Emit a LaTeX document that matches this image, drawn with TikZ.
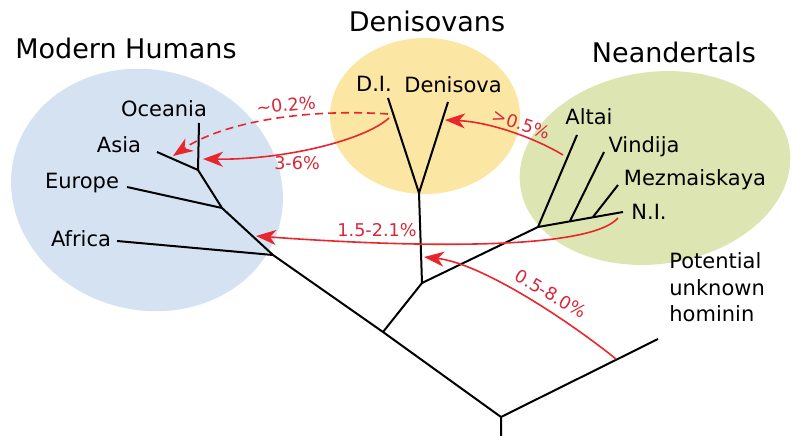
\documentclass[tikz,border=0pt]{standalone}
\usepackage{fontspec}
\setmainfont{DejaVu Sans}
\usetikzlibrary{arrows.meta}
\definecolor{hblue}{RGB}{213,226,242}
\definecolor{dyellow}{RGB}{252,230,164}
\definecolor{ngreen}{RGB}{221,230,178}
\definecolor{arrred}{RGB}{232,38,44}
\definecolor{txtred}{RGB}{214,40,58}
\tikzset{
  title/.style={inner sep=0pt, anchor=base, font=\fontsize{13.5}{16}\selectfont},
  leaf/.style={inner sep=0pt, anchor=base, font=\fontsize{10.5}{13.3}\selectfont},
  pct/.style={inner sep=0pt, text=txtred, font=\fontsize{8.8}{10}\selectfont},
  branch/.style={draw=black, line width=1pt, line join=round},
  flow/.style={draw=arrred, line width=0.8pt, -{Stealth[length=10pt,width=7.5pt,inset=3pt]}},
}
\begin{document}
\begin{tikzpicture}[x=0.5pt,y=-0.5pt]
\useasboundingbox (0,0) rectangle (800,444);
% group ellipses
\fill[hblue, rotate around={-15:(147,190)}] (147,190) ellipse [x radius=137, y radius=120];
\fill[dyellow] (425,116) ellipse [x radius=95, y radius=78];
\fill[ngreen, rotate around={8:(655,168)}] (655,168) ellipse [x radius=136, y radius=96];

% titles
\node[title] (tmh) at (126,59) {Modern Humans};
\node[title] (tden) at (427,32) {Denisovans};
\node[title] (tnea) at (674,63) {Neandertals};

% tree coordinates
\coordinate (rootb) at (501,436);
\coordinate (root) at (501,417);
\coordinate (jdn) at (383,332);
\coordinate (jaf) at (273,255);
\coordinate (jeu) at (222,208);
\coordinate (jas) at (198,170);
\coordinate (eoc) at (199,123);
\coordinate (eas) at (157,152);
\coordinate (eeu) at (127,187);
\coordinate (eaf) at (117,241);
\coordinate (jd) at (422,283);
\coordinate (jden) at (419,193);
\coordinate (edi) at (388,98);
\coordinate (edv) at (448,102);
\coordinate (jne) at (538,227);
\coordinate (jvi) at (570,221);
\coordinate (jme) at (593,217);
\coordinate (eal) at (577,135);
\coordinate (evi) at (604,152);
\coordinate (eme) at (618,185);
\coordinate (eni) at (623,212);
\coordinate (eun) at (658,339);

% tree
\draw[branch] (rootb) -- (root) -- (jdn) -- (jaf) -- (jeu) -- (jas) -- (eoc);
\draw[branch] (jas) -- (eas);
\draw[branch] (jeu) -- (eeu);
\draw[branch] (jaf) -- (eaf);
\draw[branch] (jdn) -- (jd) -- (jden) -- (edi);
\draw[branch] (jden) -- (edv);
\draw[branch] (jd) -- (jne) -- (eal);
\draw[branch] (jne) -- (eni);
\draw[branch] (jvi) -- (evi);
\draw[branch] (jme) -- (eme);
\draw[branch] (root) -- (eun);

% leaf labels
\node[leaf] (loc) at (164,117) {Oceania};
\node[leaf] (las) at (119,153) {Asia};
\node[leaf] (leu) at (82,189) {Europe};
\node[leaf] (laf) at (81,247) {Africa};
\node[leaf] (ldi) at (374,92) {D.I.};
\node[leaf] (ldv) at (453,93) {Denisova};
\node[leaf] (lal) at (589,125) {Altai};
\node[leaf] (lvi) at (644,153) {Vindija};
\node[leaf] (lme) at (695,186) {Mezmaiskaya};
\node[leaf] (lni) at (649,220) {N.I.};
\node[leaf, anchor=base west, align=left] (lun) at (669,322) {Potential\\unknown\\hominin};

% gene-flow arrows
\coordinate (sdi1) at (388,114);
\coordinate (tdi1) at (173,156);
\coordinate (sdi2) at (389,118);
\coordinate (tdi2) at (203,159);
\coordinate (sal) at (563,155);
\coordinate (tal) at (445,120);
\coordinate (sni) at (618,218);
\coordinate (tni) at (256,236);
\coordinate (sun) at (616,359);
\coordinate (tun) at (424,257);

\draw[flow, dash pattern=on 4pt off 2.5pt] (sdi1) .. controls (300,108) and (220,124) .. (tdi1);
\draw[flow] (sdi2) .. controls (365,140) and (285,160) .. (tdi2);
\draw[flow] (sal) .. controls (535,138) and (490,122) .. (tal);
\draw[flow] (sni) .. controls (590,250) and (420,248) .. (tni);
\draw[flow] (sun) .. controls (565,318) and (480,263) .. (tun);

% percentages
\node[pct, rotate=6] (p1) at (286,105) {\textasciitilde 0.2\%};
\node[pct] (p2) at (297,163) {3-6\%};
\node[pct, rotate=-18] (p3) at (521,124) {>0.5\%};
\node[pct] (p4) at (377,230) {1.5-2.1\%};
\node[pct, rotate=-30] (p5) at (551,294) {0.5-8.0\%};
\end{tikzpicture}
\end{document}
